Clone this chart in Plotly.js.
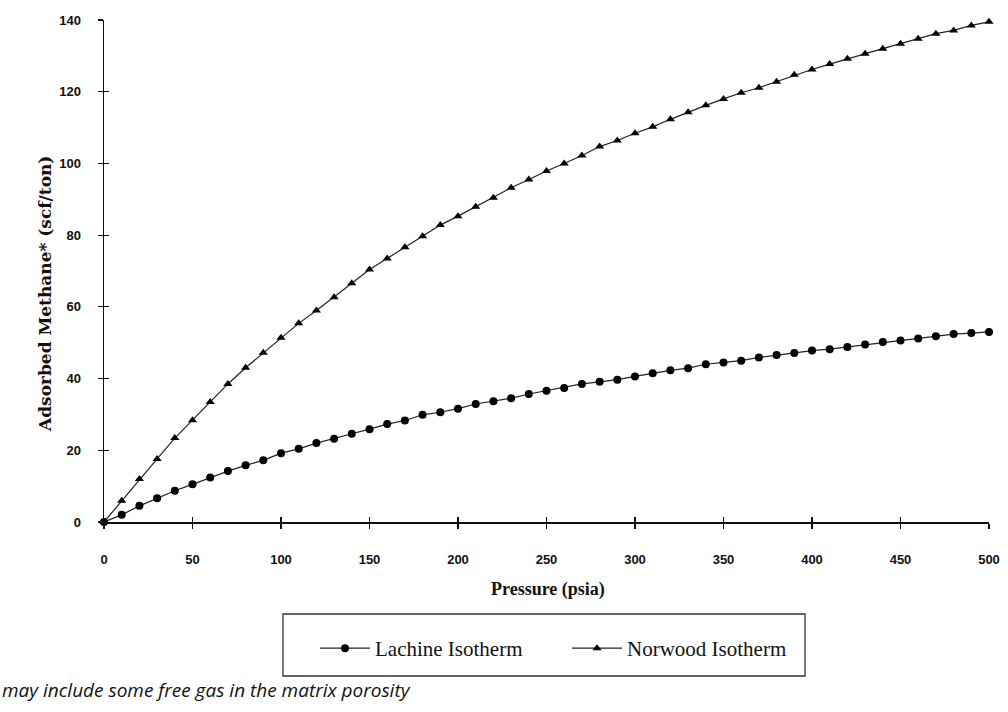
<!DOCTYPE html>
<html>
<head>
<meta charset="utf-8">
<script src="https://cdn.plot.ly/plotly-3.0.1.min.js"></script>
<style>html,body{margin:0;padding:0;background:#fff;}#chart{width:1008px;height:712px;}</style>
</head>
<body>
<div id="chart"></div>
<script>
const pressure = [0,10,20,30,40,50,60,70,80,90,100,110,120,130,140,150,160,170,180,190,200,210,220,230,240,250,260,270,280,290,300,310,320,330,340,350,360,370,380,390,400,410,420,430,440,450,460,470,480,490,500];
const lachine = [0,2.0,4.5,6.6,8.7,10.5,12.4,14.2,15.8,17.2,19.2,20.4,22.0,23.2,24.6,25.9,27.3,28.3,29.9,30.6,31.6,32.9,33.7,34.5,35.7,36.6,37.4,38.5,39.1,39.7,40.6,41.5,42.3,42.9,44.0,44.5,45.0,45.9,46.6,47.1,47.8,48.2,48.8,49.5,50.2,50.6,51.2,51.8,52.4,52.7,53.0];
const norwood = [0,5.9,12.0,17.6,23.4,28.4,33.5,38.5,43.0,47.2,51.4,55.4,59.0,62.7,66.6,70.4,73.5,76.6,79.7,82.8,85.3,87.9,90.4,93.2,95.5,97.9,100.0,102.2,104.7,106.4,108.4,110.2,112.3,114.3,116.2,118.0,119.7,121.1,122.8,124.7,126.2,127.7,129.2,130.6,132.0,133.4,134.8,136.2,137.1,138.5,139.5];
const seriesNames = ["Lachine Isotherm", "Norwood Isotherm"];
const xTicks = [0,50,100,150,200,250,300,350,400,450,500];
const yTicks = [0,20,40,60,80,100,120,140];
const xTitle = "Pressure (psia)";
const yTitle = "Adsorbed Methane* (scf/ton)";
const footnote = "may include some free gas in the matrix porosity";

const W = 1008, H = 712;
const L = 104, R = 19, T = 20, B = 190;
const pw = W - L - R, ph = H - T - B;
const px = v => (v - L) / pw;          // pixel x -> paper
const py = v => (H - B - v) / ph;      // pixel y -> paper

const tickFont = {family: "Liberation Sans, Arial, sans-serif", size: 13, color: "#111", weight: "bold"};

const data = [
  {x: pressure, y: lachine, name: seriesNames[0], type: "scatter", mode: "lines+markers",
   line: {color: "#222", width: 1.2}, marker: {symbol: "circle", size: 8, color: "#000"}, cliponaxis: false},
  {x: pressure, y: norwood, name: seriesNames[1], type: "scatter", mode: "lines+markers",
   line: {color: "#222", width: 1.2}, marker: {symbol: "triangle-up", size: 8, color: "#000"}, cliponaxis: false},
  {x: [pressure[0]], y: [lachine[0]], xaxis: "x2", yaxis: "y2", type: "scatter", mode: "markers",
   marker: {opacity: 0}, showlegend: false, hoverinfo: "skip"}
];

const layout = {
  width: W, height: H,
  margin: {l: L, r: R, t: T, b: B},
  paper_bgcolor: "#fff", plot_bgcolor: "#fff",
  showlegend: true,
  xaxis: {range: [0, 500], tickvals: xTicks, ticktext: xTicks.map(String), showgrid: false, zeroline: false,
    showline: true, linecolor: "#111", linewidth: 1.5, ticks: "outside", ticklen: 5, tickwidth: 1.2, tickcolor: "#111",
    tickfont: tickFont, ticklabelstandoff: 20},
  yaxis: {range: [0, 140], tickvals: yTicks, ticktext: yTicks.map(String), showgrid: false, zeroline: false,
    showline: true, linecolor: "#111", linewidth: 1.5, ticks: "outside", ticklen: 5, tickwidth: 1.2, tickcolor: "#111",
    tickfont: tickFont, ticklabelstandoff: 14},
  xaxis2: {overlaying: "x", matches: "x", range: [0, 500], tickvals: xTicks, showticklabels: false, showgrid: false,
    zeroline: false, showline: false, ticks: "inside", ticklen: 5, tickwidth: 1.2, tickcolor: "#111", anchor: "y2"},
  yaxis2: {overlaying: "y", matches: "y", range: [0, 140], tickvals: yTicks, showticklabels: false, showgrid: false,
    zeroline: false, showline: false, ticks: "inside", ticklen: 5, tickwidth: 1.2, tickcolor: "#111", anchor: "x2"},
  legend: {orientation: "h", x: px(315), y: py(628), xanchor: "left", yanchor: "top",
    bgcolor: "rgba(0,0,0,0)", borderwidth: 0, entrywidth: 187, entrywidthmode: "pixels", itemwidth: 50,
    font: {family: "Liberation Serif, Times New Roman, serif", size: 21, color: "#111"}},
  shapes: [
    {type: "rect", xref: "paper", yref: "paper", x0: px(283), x1: px(805), y0: py(676), y1: py(614),
     line: {color: "#333", width: 1.3}, fillcolor: "rgba(0,0,0,0)"}
  ],
  annotations: [
    {text: yTitle, xref: "paper", yref: "paper", x: px(45), y: py(294), xanchor: "center", yanchor: "middle",
     textangle: -90, showarrow: false, font: {family: "DejaVu Serif, serif", size: 17, color: "#111", weight: "bold"}},
    {text: xTitle, xref: "paper", yref: "paper", x: px(548), y: py(590), xanchor: "center", yanchor: "middle",
     showarrow: false, font: {family: "Liberation Serif, Times New Roman, serif", size: 18, color: "#111", weight: "bold"}},
    {text: "<i>" + footnote + "</i>", xref: "paper", yref: "paper", x: px(0), y: py(690), xanchor: "left", yanchor: "middle",
     showarrow: false, font: {family: "Open Sans, sans-serif", size: 19, color: "#111"}}
  ]
};

Plotly.newPlot("chart", data, layout, {displayModeBar: false, staticPlot: true});
</script>
</body>
</html>
